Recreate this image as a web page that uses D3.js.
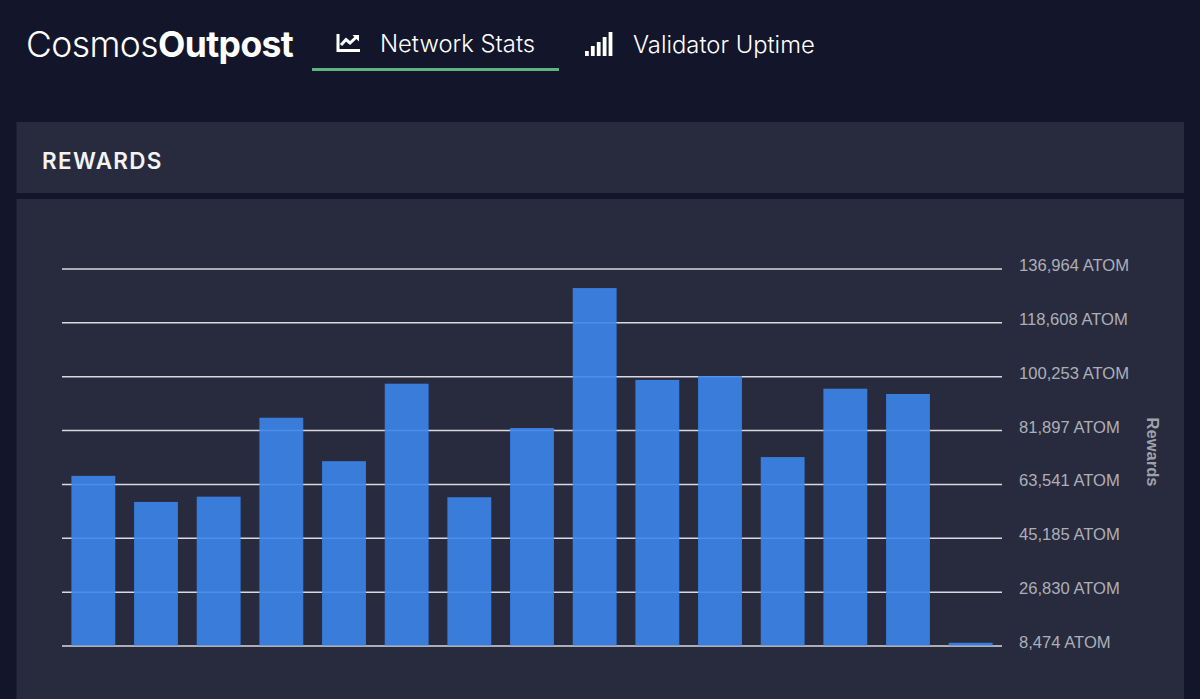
<!DOCTYPE html>
<html lang="en">
<head>
  <meta charset="UTF-8" />
  <title>Cosmos Outpost Rewards</title>
  <script src="https://d3js.org/d3.v7.min.js"></script>
  <style>
    body {
      margin: 0;
      background: #13162a;
      overflow: hidden;
    }
    svg {
      display: block;
    }
    .nav {
      font-family: Inter, sans-serif;
      font-size: 23.8px;
      font-weight: 300;
      fill: #fff;
    }
    .tick text {
      font-family: "Liberation Sans", sans-serif;
      font-size: 16.6px;
      fill: #adafb8;
    }
  </style>
</head>
<body>

<svg id="chart" width="1200" height="699"></svg>

<script>
const periods = d3.range(1, 16);
const rewards = [66300, 57400, 59200, 86100, 71300, 97700, 59000, 82600, 130300, 99000, 100300, 72700, 96000, 94200, 9400];
const tickValues = [8474, 26830, 45185, 63541, 81897, 100253, 118608, 136964];

const svg = d3.select("#chart");

// panels
svg.append("rect").attr("x", 16.5).attr("y", 122).attr("width", 1167.5).attr("height", 71).attr("fill", "#282b3e");
svg.append("rect").attr("x", 16.5).attr("y", 199).attr("width", 1167.5).attr("height", 500).attr("fill", "#282b3e");

// header
const logo = svg.append("text")
  .attr("x", 26).attr("y", 57)
  .attr("font-family", "Inter, sans-serif")
  .attr("font-size", 35.5)
  .attr("letter-spacing", -0.6)
  .attr("fill", "#fff");
logo.append("tspan").attr("font-weight", 300).text("Cosmos");
logo.append("tspan").attr("font-weight", 700).text("Outpost");

svg.append("text").attr("class", "nav").attr("x", 380).attr("y", 52).text("Network Stats");
svg.append("text").attr("class", "nav").attr("x", 633).attr("y", 53).text("Validator Uptime");

svg.append("rect").attr("x", 312).attr("y", 68).attr("width", 247).attr("height", 3).attr("fill", "#5fb57f");

// line chart icon
svg.append("path")
  .attr("d", "M338 34V50.5H360")
  .attr("fill", "none").attr("stroke", "#fff").attr("stroke-width", 3);
svg.append("path")
  .attr("d", "M341 45L346 39.5L350 43L357 36.5")
  .attr("fill", "none").attr("stroke", "#fff").attr("stroke-width", 3);
svg.append("path").attr("d", "M352.5 35H359V41.5Z").attr("fill", "#fff");

// signal icon
const signalBars = [5, 10, 14, 19, 24];
svg.selectAll(".signal")
  .data(signalBars)
  .enter()
  .append("rect")
  .attr("class", "signal")
  .attr("x", (d, i) => 585 + i * 5.9)
  .attr("y", d => 56 - d)
  .attr("width", 3.8)
  .attr("height", d => d)
  .attr("fill", "#fff");

svg.append("text")
  .attr("x", 42).attr("y", 169)
  .attr("font-family", "Inter, sans-serif")
  .attr("font-size", 22.5)
  .attr("letter-spacing", 1.3)
  .attr("font-weight", 600)
  .attr("fill", "#f2f3f5")
  .text("REWARDS");

// chart
const x = d3.scaleBand()
  .domain(periods)
  .range([62, 1002])
  .paddingInner(0.3)
  .paddingOuter(0.15);

const y = d3.scaleLinear()
  .domain([8474, 136964])
  .range([645.5, 268.5]);

const yAxis = d3.axisRight(y)
  .tickValues(tickValues)
  .tickSize(-940)
  .tickPadding(17)
  .tickFormat(d => d3.format(",")(d) + " ATOM");

const axis = svg.append("g")
  .attr("transform", "translate(1002,0)")
  .call(yAxis);

axis.select(".domain").remove();
axis.selectAll(".tick line").attr("stroke", "#d9dade").attr("stroke-width", 1.5);
axis.selectAll(".tick text").attr("dy", "0.12em");

svg.selectAll(".bar")
  .data(rewards)
  .enter()
  .append("rect")
  .attr("class", "bar")
  .attr("x", (d, i) => x(periods[i]))
  .attr("y", d => y(d))
  .attr("width", x.bandwidth())
  .attr("height", d => y(8474) - y(d))
  .attr("fill", "#3c85ea")
  .attr("fill-opacity", 0.9);

svg.append("text")
  .attr("transform", "translate(1147,452) rotate(90)")
  .attr("text-anchor", "middle")
  .attr("font-family", "Liberation Sans, sans-serif")
  .attr("font-size", 16.5)
  .attr("font-weight", 700)
  .attr("fill", "#a0a2ab")
  .text("Rewards");
</script>

</body>
</html>
